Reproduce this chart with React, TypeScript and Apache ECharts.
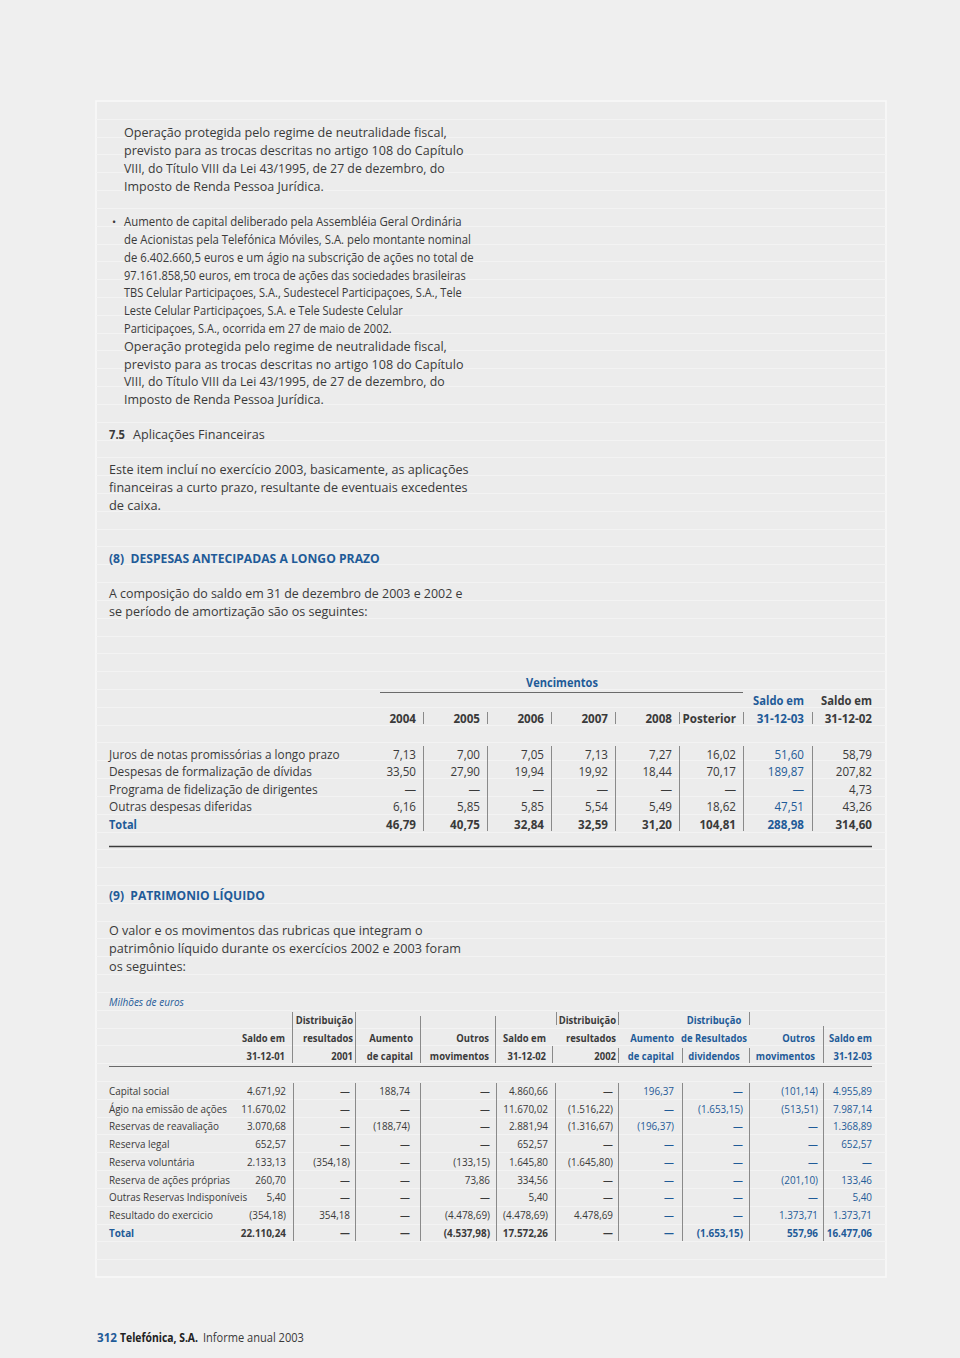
import React, { useEffect, useRef } from "react";
import * as echarts from "echarts";

// ---------- DATA ----------
const para1 = [
  "Operação protegida pelo regime de neutralidade fiscal,",
  "previsto para as trocas descritas no artigo 108 do Capítulo",
  "VIII, do Título VIII da Lei 43/1995, de 27 de dezembro, do",
  "Imposto de Renda Pessoa Jurídica.",
];
const bulletLines = [
  "Aumento de capital deliberado pela Assembléia Geral Ordinária",
  "de Acionistas pela Telefónica Móviles, S.A. pelo montante nominal",
  "de 6.402.660,5 euros e um ágio na subscrição de ações no total de",
  "97.161.858,50 euros, em troca de ações das sociedades brasileiras",
  "TBS Celular Participaçoes, S.A., Sudestecel Participaçoes, S.A., Tele",
  "Leste Celular Participaçoes, S.A. e Tele Sudeste Celular",
  "Participaçoes, S.A., ocorrida em 27 de maio de 2002.",
];
const para75 = [
  "Este item incluí no exercício 2003, basicamente, as aplicações",
  "financeiras a curto prazo, resultante de eventuais excedentes",
  "de caixa.",
];
const para8 = [
  "A composição do saldo em 31 de dezembro de 2003 e 2002 e",
  "se período de amortização são os seguintes:",
];
const para9 = [
  "O valor e os movimentos das rubricas que integram o",
  "patrimônio líquido durante os exercícios 2002 e 2003 foram",
  "os seguintes:",
];

const t1Columns = ["2004", "2005", "2006", "2007", "2008", "Posterior", "31-12-03", "31-12-02"];
const t1Rows = [
  "Juros de notas promissórias a longo prazo",
  "Despesas de formalização de dívidas",
  "Programa de fidelização de dirigentes",
  "Outras despesas diferidas",
];
const t1Values = [
  ["7,13", "7,00", "7,05", "7,13", "7,27", "16,02", "51,60", "58,79"],
  ["33,50", "27,90", "19,94", "19,92", "18,44", "70,17", "189,87", "207,82"],
  ["—", "—", "—", "—", "—", "—", "—", "4,73"],
  ["6,16", "5,85", "5,85", "5,54", "5,49", "18,62", "47,51", "43,26"],
];
const t1Total = ["46,79", "40,75", "32,84", "32,59", "31,20", "104,81", "288,98", "314,60"];

const t2Headers = [
  ["", "Saldo em", "31-12-01"],
  ["Distribuição", "resultados", "2001"],
  ["", "Aumento", "de capital"],
  ["", "Outros", "movimentos"],
  ["", "Saldo em", "31-12-02"],
  ["Distribuição", "resultados", "2002"],
  ["", "Aumento", "de capital"],
  ["Distribução", "de Resultados", "dividendos"],
  ["", "Outros", "movimentos"],
  ["", "Saldo em", "31-12-03"],
];
const t2Rows = [
  "Capital social",
  "Ágio na emissão de ações",
  "Reservas de reavaliação",
  "Reserva legal",
  "Reserva voluntária",
  "Reserva de ações próprias",
  "Outras Reservas Indisponíveis",
  "Resultado do exercicio",
];
const t2Values = [
  ["4.671,92", "—", "188,74", "—", "4.860,66", "—", "196,37", "—", "(101,14)", "4.955,89"],
  ["11.670,02", "—", "—", "—", "11.670,02", "(1.516,22)", "—", "(1.653,15)", "(513,51)", "7.987,14"],
  ["3.070,68", "—", "(188,74)", "—", "2.881,94", "(1.316,67)", "(196,37)", "—", "—", "1.368,89"],
  ["652,57", "—", "—", "—", "652,57", "—", "—", "—", "—", "652,57"],
  ["2.133,13", "(354,18)", "—", "(133,15)", "1.645,80", "(1.645,80)", "—", "—", "—", "—"],
  ["260,70", "—", "—", "73,86", "334,56", "—", "—", "—", "(201,10)", "133,46"],
  ["5,40", "—", "—", "—", "5,40", "—", "—", "—", "—", "5,40"],
  ["(354,18)", "354,18", "—", "(4.478,69)", "(4.478,69)", "4.478,69", "—", "—", "1.373,71", "1.373,71"],
];
const t2Total = ["22.110,24", "—", "—", "(4.537,98)", "17.572,26", "—", "—", "(1.653,15)", "557,96", "16.477,06"];

// ---------- STYLE / LAYOUT ----------
const FONT = '"Open Sans", "Noto Sans", sans-serif';
const DARK = "#3a3a3a";
const BLUE = "#1f5b98";

let measureCtx: CanvasRenderingContext2D | null = null;
function measure(text: string, font: string) {
  if (!measureCtx) measureCtx = document.createElement("canvas").getContext("2d");
  measureCtx!.font = font;
  return measureCtx!.measureText(text).width || 1;
}

type TOpts = {
  size?: number;
  weight?: string;
  italic?: boolean;
  color?: string;
  align?: "left" | "right" | "center";
  w?: number;
  sx?: number;
};
function T(text: string, x: number, y: number, o: TOpts = {}) {
  const size = o.size ?? 13;
  const weight = o.weight ?? "normal";
  const font = `${o.italic ? "italic " : ""}${weight} ${size}px ${FONT}`;
  let scaleX = o.sx ?? 1;
  if (o.w) scaleX = o.w / measure(text, font);
  const align = o.align ?? "left";
  return {
    type: "text",
    x,
    y,
    scaleX,
    silent: true,
    style: {
      text,
      font,
      fill: o.color ?? DARK,
      align,
      verticalAlign: "middle",
      textAlign: align,
      textVerticalAlign: "middle",
    },
  };
}
function L(x1: number, y1: number, x2: number, y2: number, stroke: string, lineWidth = 1) {
  return { type: "line", silent: true, shape: { x1, y1, x2, y2 }, style: { stroke, lineWidth } };
}

function buildGraphics() {
  const els: any[] = [];
  // panel + ruled lines
  const px = 96, py = 101, pw = 790, ph = 1176;
  els.push({ type: "rect", silent: true, shape: { x: px, y: py, width: pw, height: ph }, style: { fill: "#ececec", stroke: "#f9f9f9", lineWidth: 1.5 } });
  const n = 66;
  for (let k = 1; k < n; k++) {
    const y = Math.round(py + (k * ph) / n) + 0.5;
    els.push(L(px, y, px + pw, y, "#f3f3f3", 1));
  }

  // paragraph 1
  const p1Y = [132, 150, 168, 186];
  const p1W = [323, 340, 321, 200];
  para1.forEach((s, i) => els.push(T(s, 124, p1Y[i], { w: p1W[i] })));
  // bullet
  els.push(T("•", 112, 221, { size: 11 }));
  const bY = [221, 239, 257, 275, 292, 310, 328];
  const bW = [338, 347, 350, 342, 338, 279, 268];
  bulletLines.forEach((s, i) => els.push(T(s, 124, bY[i], { w: bW[i] })));
  const p2Y = [346, 364, 381, 399];
  para1.forEach((s, i) => els.push(T(s, 124, p2Y[i], { w: p1W[i] })));

  // 7.5
  els.push(T("7.5", 109, 434, { weight: "bold", w: 16 }));
  els.push(T("Aplicações Financeiras", 133, 434, { w: 132 }));
  const p75Y = [469, 487, 505];
  const p75W = [360, 359, 52];
  para75.forEach((s, i) => els.push(T(s, 109, p75Y[i], { w: p75W[i] })));

  // (8)
  els.push(T("(8)  DESPESAS ANTECIPADAS A LONGO PRAZO", 109, 558, { weight: "bold", color: BLUE, w: 271 }));
  const p8Y = [593, 611];
  const p8W = [354, 259];
  para8.forEach((s, i) => els.push(T(s, 109, p8Y[i], { w: p8W[i] })));

  // ---- Table 1 ----
  const c1R = [416, 480, 544, 608, 672, 736, 804, 872];
  const c1Bar = [423, 487, 551, 615, 679, 743, 812];
  els.push(T("Vencimentos", 562, 682, { weight: "bold", color: BLUE, align: "center", size: 12.5, w: 72 }));
  els.push(L(380, 692.5, 743, 692.5, "#6a6a6a", 1));
  els.push(T("Saldo em", c1R[6], 700, { weight: "bold", color: BLUE, align: "right", size: 12.5, w: 51 }));
  els.push(T("Saldo em", c1R[7], 700, { weight: "bold", color: DARK, align: "right", size: 12.5, w: 51 }));
  t1Columns.forEach((s, i) =>
    els.push(T(s, c1R[i], 718, { weight: "bold", color: i === 6 ? BLUE : DARK, align: "right", size: 12.5, sx: 0.93 }))
  );
  c1Bar.forEach((x) => els.push(L(x + 0.5, 712, x + 0.5, 724, "#8a8a8a", 1)));
  const r1Y = [754, 771, 789, 806, 824];
  const r1W = [231, 203, 209, 143];
  t1Rows.forEach((s, i) => els.push(T(s, 109, r1Y[i], { w: r1W[i], size: 12.5 })));
  els.push(T("Total", 109, r1Y[4], { weight: "bold", color: BLUE, size: 12.5, w: 28 }));
  t1Values.forEach((row, i) =>
    row.forEach((v, j) =>
      els.push(T(v, c1R[j], r1Y[i], { color: j === 6 ? BLUE : DARK, align: "right", size: 12.5, sx: 0.93 }))
    )
  );
  t1Total.forEach((v, j) =>
    els.push(T(v, c1R[j], r1Y[4], { weight: "bold", color: j === 6 ? BLUE : DARK, align: "right", size: 12.5, sx: 0.93 }))
  );
  c1Bar.forEach((x) => els.push(L(x + 0.5, 746, x + 0.5, 831, "#8a8a8a", 1)));
  els.push(L(109, 846.5, 872, 846.5, "#3c3c3c", 1.3));

  // (9)
  els.push(T("(9)  PATRIMONIO LÍQUIDO", 109, 895, { weight: "bold", color: BLUE, w: 156 }));
  const p9Y = [930, 948, 966];
  const p9W = [314, 352, 77];
  para9.forEach((s, i) => els.push(T(s, 109, p9Y[i], { w: p9W[i] })));

  // ---- Table 2 ----
  els.push(T("Milhões de euros", 109, 1002, { italic: true, color: BLUE, size: 11, w: 75 }));
  const c2HR = [285, 353, 413, 489, 546, 616, 674, 714, 815, 872];
  const c2R = [286, 350, 410, 490, 548, 613, 674, 743, 818, 872];
  const c2Bar = [293, 355, 420, 496, 555, 618, 682, 749, 823];
  const h2Y = [1020, 1038, 1056];
  t2Headers.forEach((col, j) =>
    col.forEach((s, r) => {
      if (!s) return;
      els.push(
        T(s, c2HR[j], h2Y[r], {
          weight: "bold",
          size: 11,
          color: j >= 6 ? BLUE : DARK,
          align: j === 7 ? "center" : "right",
          sx: 0.86,
        })
      );
    })
  );
  const hBars: [number, number, number][] = [
    [292, 1012, 1063],
    [355, 1012, 1063],
    [420, 1016, 1063],
    [495, 1016, 1063],
    [552, 1046, 1063],
    [556, 1012, 1025],
    [618, 1012, 1025],
    [618, 1048, 1063],
    [682, 1048, 1063],
    [749, 1012, 1025],
    [749, 1048, 1063],
    [823, 1026, 1063],
  ];
  hBars.forEach(([x, a, b]) => els.push(L(x + 0.5, a, x + 0.5, b, "#8a8a8a", 1)));
  els.push(L(109, 1066.5, 872, 1066.5, "#6a6a6a", 1));

  const r2Y = [1091, 1108.5, 1126, 1144, 1162, 1179.5, 1197, 1215, 1233];
  t2Rows.forEach((s, i) => els.push(T(s, 109, r2Y[i], { size: 11, sx: 0.9 })));
  els.push(T("Total", 109, r2Y[8], { weight: "bold", color: BLUE, size: 11, sx: 0.9 }));
  t2Values.forEach((row, i) =>
    row.forEach((v, j) =>
      els.push(T(v, c2R[j], r2Y[i], { size: 11, color: j >= 6 ? BLUE : DARK, align: "right", sx: 0.9 }))
    )
  );
  t2Total.forEach((v, j) =>
    els.push(T(v, c2R[j], r2Y[8], { size: 11, weight: "bold", color: j >= 6 ? BLUE : DARK, align: "right", sx: 0.9 }))
  );
  c2Bar.forEach((x) => els.push(L(x + 0.5, 1083, x + 0.5, 1241, "#8a8a8a", 1)));

  // footer
  els.push(T("312", 97, 1337, { weight: "bold", color: BLUE, size: 12, w: 20 }));
  els.push(T("Telefónica, S.A.", 120, 1337, { weight: "bold", color: "#222", size: 12, w: 78 }));
  els.push(T("Informe anual 2003", 203, 1337, { size: 12, w: 101 }));

  return els;
}

export default function App() {
  const ref = useRef<HTMLDivElement>(null);
  useEffect(() => {
    if (!ref.current) return;
    const chart = echarts.init(ref.current, undefined, { renderer: "svg" });
    chart.setOption({
      animation: false,
      backgroundColor: "#efefef",
      graphic: { elements: buildGraphics() },
    });
    return () => chart.dispose();
  }, []);
  return (
    <div
      ref={ref}
      style={{ position: "absolute", left: 0, top: 0, width: 960, height: 1358 }}
    />
  );
}
